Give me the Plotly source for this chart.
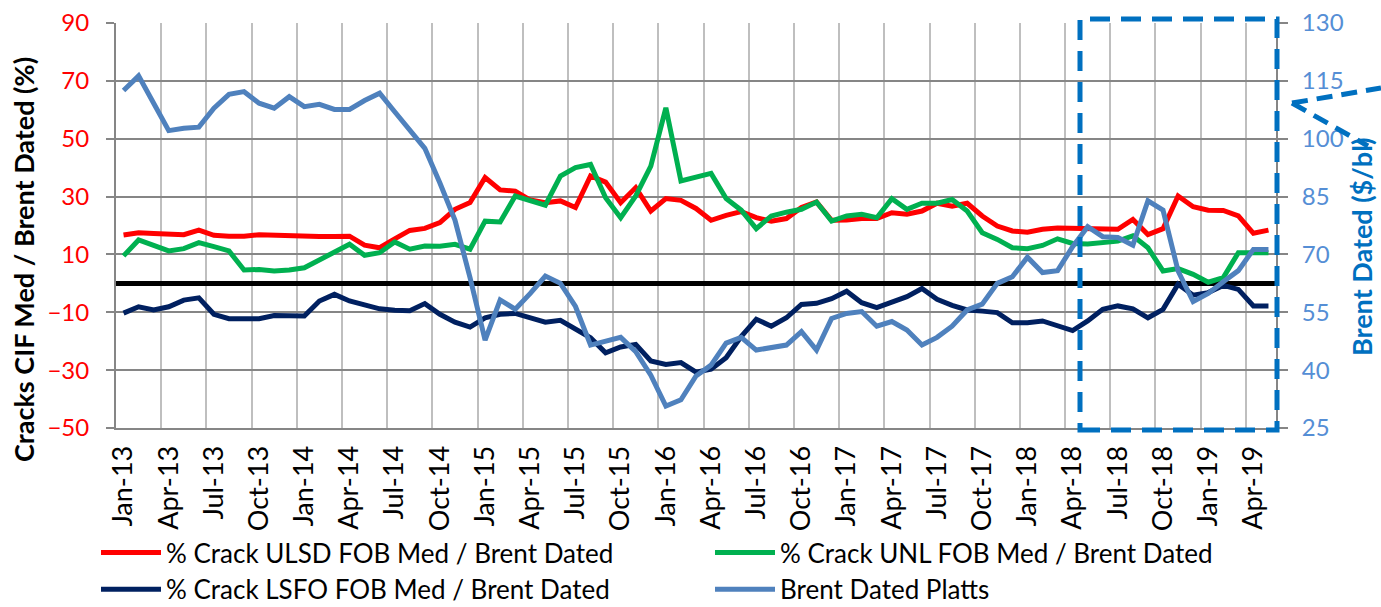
import plotly.graph_objects as go

W, H = 1381, 607

month_names = ["Jan", "Feb", "Mar", "Apr", "May", "Jun", "Jul", "Aug", "Sep", "Oct", "Nov", "Dec"]
months = [f"{m}-{y}" for y in range(13, 20) for m in month_names][:77]

ulsd = [
    16.7, 17.5, 17.2, 17.0, 16.8, 18.4, 16.6, 16.3, 16.3, 16.8, 16.6, 16.6,
    16.0, 16.2, 16.2, 16.3, 13.2, 12.3, 15.4, 18.3, 19.0, 21.0, 25.6, 27.9,
    36.6, 32.3, 31.9, 28.8, 27.9, 28.5, 26.2, 37.1, 35.0, 27.9, 33.1, 25.0,
    29.3, 28.7, 25.9, 21.8, 23.5, 24.8, 22.7, 21.5, 22.4, 26.2, 28.1, 21.8,
    21.9, 22.4, 22.4, 24.4, 23.9, 25.0, 27.7, 26.7, 27.7, 23.3, 19.8, 18.1,
    17.7, 18.7, 19.1, 18.9, 18.8, 18.7, 18.7, 22.1, 16.9, 18.9, 30.2, 26.5,
    25.3, 25.2, 23.3, 17.3, 18.4,
]
unl = [
    9.5, 15.0, 13.1, 11.2, 12.0, 14.1, 12.7, 11.2, 4.6, 4.8, 4.3, 4.6,
    5.4, 8.1, 10.4, 13.5, 9.7, 10.6, 14.3, 11.8, 12.9, 12.8, 13.5, 11.8,
    21.5, 21.2, 30.2, 28.5, 27.0, 37.1, 40.0, 41.1, 29.6, 22.7, 30.2, 40.5,
    60.7, 35.4, 36.5, 38.0, 29.3, 25.3, 18.9, 23.3, 24.6, 25.6, 28.1, 21.5,
    23.3, 23.9, 22.7, 29.3, 25.6, 27.7, 27.7, 29.0, 25.0, 17.5, 15.2, 12.3,
    12.0, 13.1, 15.4, 13.8, 13.6, 14.1, 14.6, 16.4, 12.3, 4.3, 5.1, 3.1,
    0.4, 2.0, 10.6, 10.6, 10.6,
]
lsfo = [
    -10.3, -8.1, -9.2, -8.1, -5.8, -5.0, -10.7, -12.2, -12.2, -12.2, -11.1, -11.3,
    -11.3, -6.1, -3.8, -6.1, -7.3, -8.8, -9.3, -9.5, -7.0, -10.7, -13.4, -15.1,
    -11.9, -10.7, -10.4, -11.9, -13.4, -12.8, -15.9, -18.8, -24.0, -22.0, -21.1, -26.8,
    -28.0, -27.4, -30.7, -29.7, -25.7, -18.4, -12.4, -14.8, -11.9, -7.3, -6.9, -5.3,
    -2.7, -6.7, -8.4, -6.5, -4.6, -1.8, -5.5, -7.6, -9.2, -9.6, -10.1, -13.6,
    -13.6, -13.0, -14.5, -16.3, -13.0, -9.0, -7.8, -8.8, -11.9, -9.0, -0.3, -4.1,
    -3.2, -0.7, -2.1, -7.8, -7.8,
]
brent = [
    112.5, 116.3, 109.2, 102.1, 102.7, 103.0, 107.9, 111.5, 112.2, 109.2, 107.9, 110.9,
    108.3, 108.9, 107.6, 107.6, 109.9, 111.8, 107.0, 102.3, 97.5, 88.5, 78.9, 64.0,
    47.8, 58.2, 55.8, 59.9, 64.4, 62.5, 56.5, 46.5, 47.6, 48.5, 44.8, 38.7,
    30.7, 32.3, 38.5, 41.3, 47.0, 48.5, 45.2, 45.7, 46.5, 50.0, 45.2, 53.4,
    54.7, 55.2, 51.4, 52.6, 50.4, 46.5, 48.5, 51.4, 55.6, 57.1, 62.5, 64.2,
    69.3, 65.3, 65.8, 72.0, 77.2, 74.6, 74.4, 72.4, 83.9, 81.5, 65.7, 57.8,
    59.9, 62.9, 65.8, 71.3, 71.3,
]

left_ticks = [-50, -30, -10, 10, 30, 50, 70, 90]
right_ticks = [25, 40, 55, 70, 85, 100, 115, 130]

FONT = "Lato"
LW = 5

fig = go.Figure()
fig.add_trace(go.Scatter(x=months, y=ulsd, mode="lines", name="% Crack ULSD FOB Med / Brent Dated",
                         legend="legend", legendgroup="a",
                         line=dict(color="#FF0000", width=LW)))
fig.add_trace(go.Scatter(x=months, y=unl, mode="lines", name="% Crack UNL FOB Med / Brent Dated",
                         legend="legend2", legendgroup="b",
                         line=dict(color="#00B050", width=LW)))
fig.add_trace(go.Scatter(x=months, y=lsfo, mode="lines", name="% Crack LSFO FOB Med / Brent Dated",
                         legend="legend", legendgroup="c",
                         line=dict(color="#002060", width=LW)))
fig.add_trace(go.Scatter(x=months, y=brent, mode="lines", name="Brent Dated Platts", yaxis="y2",
                         legend="legend2", legendgroup="d",
                         line=dict(color="#4F81BD", width=LW)))

def px(x):
    return x / W

def py(y):
    return 1 - y / H

legend_common = dict(
    orientation="v", xref="container", yref="container", xanchor="left", yanchor="top",
    traceorder="normal", tracegroupgap=12, itemwidth=60,
    font=dict(size=26, color="black", family=FONT), bgcolor="rgba(0,0,0,0)",
)

fig.update_layout(
    width=W, height=H,
    margin=dict(l=0, r=0, t=0, b=0, autoexpand=False),
    paper_bgcolor="white", plot_bgcolor="white",
    font=dict(family=FONT, color="black"),
    showlegend=True,
    xaxis=dict(
        domain=[px(116), px(1276)], type="category", range=[-0.5, 76.5],
        tickson="boundaries", dtick=3, tick0=0, automargin=False,
        showgrid=True, gridcolor="#BFBFBF", gridwidth=2,
        showline=True, linecolor="#868686", linewidth=2,
        ticks="", tickangle=-90, tickfont=dict(size=27, color="black", family=FONT),
        ticklabelstandoff=5, zeroline=False,
    ),
    yaxis=dict(
        domain=[py(428), py(23)], range=[-50, 90], tickvals=left_ticks, automargin=False,
        showgrid=True, gridcolor="#868686", gridwidth=2,
        zeroline=True, zerolinecolor="black", zerolinewidth=5,
        showline=True, linecolor="#868686", linewidth=2,
        ticks="outside", ticklen=8, tickwidth=2, tickcolor="#868686",
        tickfont=dict(size=24, color="#FF0000", family=FONT),
        ticklabelstandoff=12,
    ),
    yaxis2=dict(
        overlaying="y", side="right", anchor="x", range=[25, 130], tickvals=right_ticks,
        automargin=False, showgrid=False, zeroline=False,
        showline=True, linecolor="#868686", linewidth=2,
        ticks="outside", ticklen=10, tickwidth=2, tickcolor="#868686",
        tickfont=dict(size=24, color="#558ED5", family=FONT),
        ticklabelstandoff=9,
    ),
    legend=dict(x=px(96), y=py(529), **legend_common),
    legend2=dict(x=px(710), y=py(529), **legend_common),
    annotations=[
        dict(text="<b>Cracks CIF Med / Brent Dated (%)</b>", textangle=-90, xref="paper", yref="paper",
             x=px(23), y=py(260), xanchor="center", yanchor="middle", showarrow=False,
             font=dict(size=27, color="black", family=FONT)),
        dict(text="<b>Brent Dated ($/bl)</b>", textangle=-90, xref="paper", yref="paper",
             x=px(1362), y=py(247), xanchor="center", yanchor="middle", showarrow=False,
             font=dict(size=27, color="#0070C0", family=FONT)),
    ],
    shapes=[
        dict(type="rect", xref="paper", yref="paper", x0=px(1080), x1=px(1277), y0=py(430), y1=py(19),
             line=dict(color="#0070C0", width=5, dash="20px,11px"), layer="above"),
        dict(type="line", xref="paper", yref="paper", x0=px(1292), y0=py(103), x1=px(1381), y1=py(88),
             line=dict(color="#0070C0", width=5, dash="16px,9px"), layer="above"),
        dict(type="line", xref="paper", yref="paper", x0=px(1292), y0=py(103), x1=px(1368), y1=py(146),
             line=dict(color="#0070C0", width=5, dash="16px,9px"), layer="above"),
    ],
)

fig.write_html(
    "out.html",
    config={"displayModeBar": False},
    post_script="document.body.style.margin='0px';document.documentElement.style.overflow='hidden';",
)
